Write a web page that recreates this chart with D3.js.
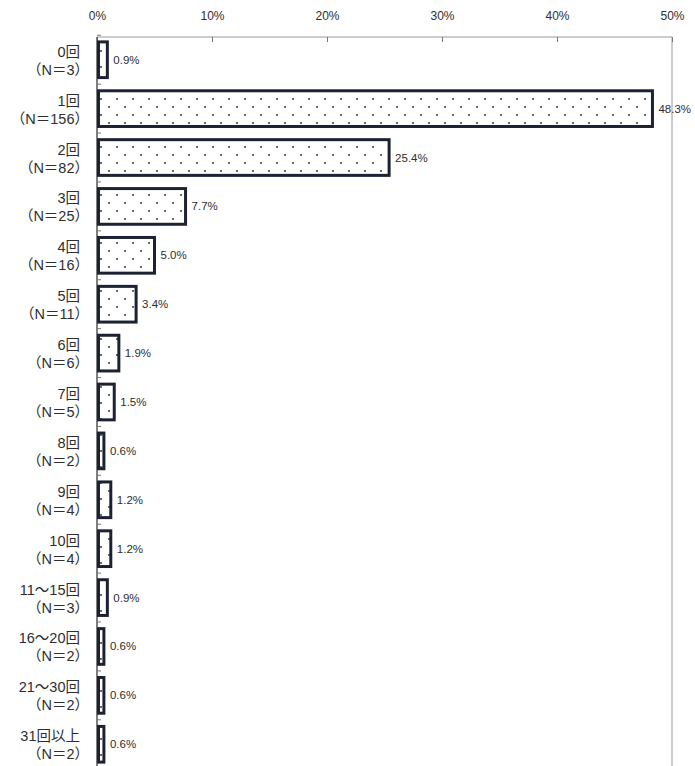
<!DOCTYPE html>
<html><head><meta charset="utf-8">
<script src="https://cdn.jsdelivr.net/npm/d3@7"></script>
<style>
body{margin:0;background:#fff;}
text{font-family:"Liberation Sans","Noto Sans CJK JP",sans-serif;fill:#2e2e2e;}
</style></head>
<body><svg id="c" width="695" height="766"></svg>
<script>
const categories = ["0回","1回","2回","3回","4回","5回","6回","7回","8回","9回","10回","11～15回","16～20回","21～30回","31回以上"];
const counts = [3,156,82,25,16,11,6,5,2,4,4,3,2,2,2];
const percents = [0.9,48.3,25.4,7.7,5.0,3.4,1.9,1.5,0.6,1.2,1.2,0.9,0.6,0.6,0.6];
const tickValues = [0,10,20,30,40,50];

(function(){
const svg = d3.select("#c");
const pl = 97, pr = 672, pt = 37, plotH = 730;
const x = d3.scaleLinear().domain([0,50]).range([pl,pr]);
const y = d3.scaleBand().domain(categories).range([pt, pt + plotH]).paddingInner(0.27).paddingOuter(0.1);

const defs = svg.append("defs");
const pat = defs.append("pattern").attr("id","dots").attr("patternUnits","userSpaceOnUse")
  .attr("width",16).attr("height",16).attr("x",pl).attr("y",0);
pat.append("rect").attr("width",16).attr("height",16).attr("fill","#fff");
pat.append("circle").attr("cx",4).attr("cy",3).attr("r",1.05).attr("fill","#444");
pat.append("circle").attr("cx",12).attr("cy",11).attr("r",1.05).attr("fill","#444");

svg.append("line").attr("x1",pl).attr("x2",pr).attr("y1",pt).attr("y2",pt).attr("stroke","#999").attr("stroke-width",1);
svg.append("line").attr("x1",pr).attr("x2",pr).attr("y1",pt).attr("y2",766).attr("stroke","#999").attr("stroke-width",1);

const xAxis = d3.axisTop(x).tickValues(tickValues).tickFormat(d=>d+"%").tickSize(-5).tickPadding(17);
const gx = svg.append("g").attr("transform",`translate(0,${pt})`).call(xAxis);
gx.select(".domain").remove();
gx.selectAll(".tick line").attr("stroke","#777");
gx.selectAll(".tick text").attr("font-size",12).attr("dy","0");

svg.append("line").attr("x1",pl).attr("x2",pl).attr("y1",pt).attr("y2",766).attr("stroke","#555").attr("stroke-width",1.5);
const bounds = categories.map(c=>y(c) - y.step()*y.paddingInner()/2);
svg.selectAll(".ytick").data(bounds).join("line").attr("class","ytick")
  .attr("x1",pl).attr("x2",pl+4).attr("y1",d=>d).attr("y2",d=>d).attr("stroke","#777");

svg.selectAll(".bar").data(percents).join("rect").attr("class","bar")
  .attr("x",x(0)+1.5).attr("y",(d,i)=>y(categories[i]))
  .attr("width",d=>x(d)-x(0)-1.5).attr("height",y.bandwidth())
  .attr("fill","url(#dots)").attr("stroke","#1c2233").attr("stroke-width",3);

svg.selectAll(".val").data(percents).join("text").attr("class","val")
  .attr("x",d=>x(d)+6).attr("y",(d,i)=>y(categories[i])+y.bandwidth()/2+4)
  .attr("font-size",11.5).text(d=>d.toFixed(1)+"%");

const lab = svg.selectAll(".cat").data(categories).join("text").attr("class","cat")
  .attr("text-anchor","end").attr("font-size",14.5);
lab.append("tspan").attr("x",80).attr("y",d=>y(d)+y.bandwidth()/2-3).text(d=>d);
lab.append("tspan").attr("x",89).attr("y",d=>y(d)+y.bandwidth()/2+15).text((d,i)=>"（N＝"+counts[i]+"）");
})();
</script></body></html>
